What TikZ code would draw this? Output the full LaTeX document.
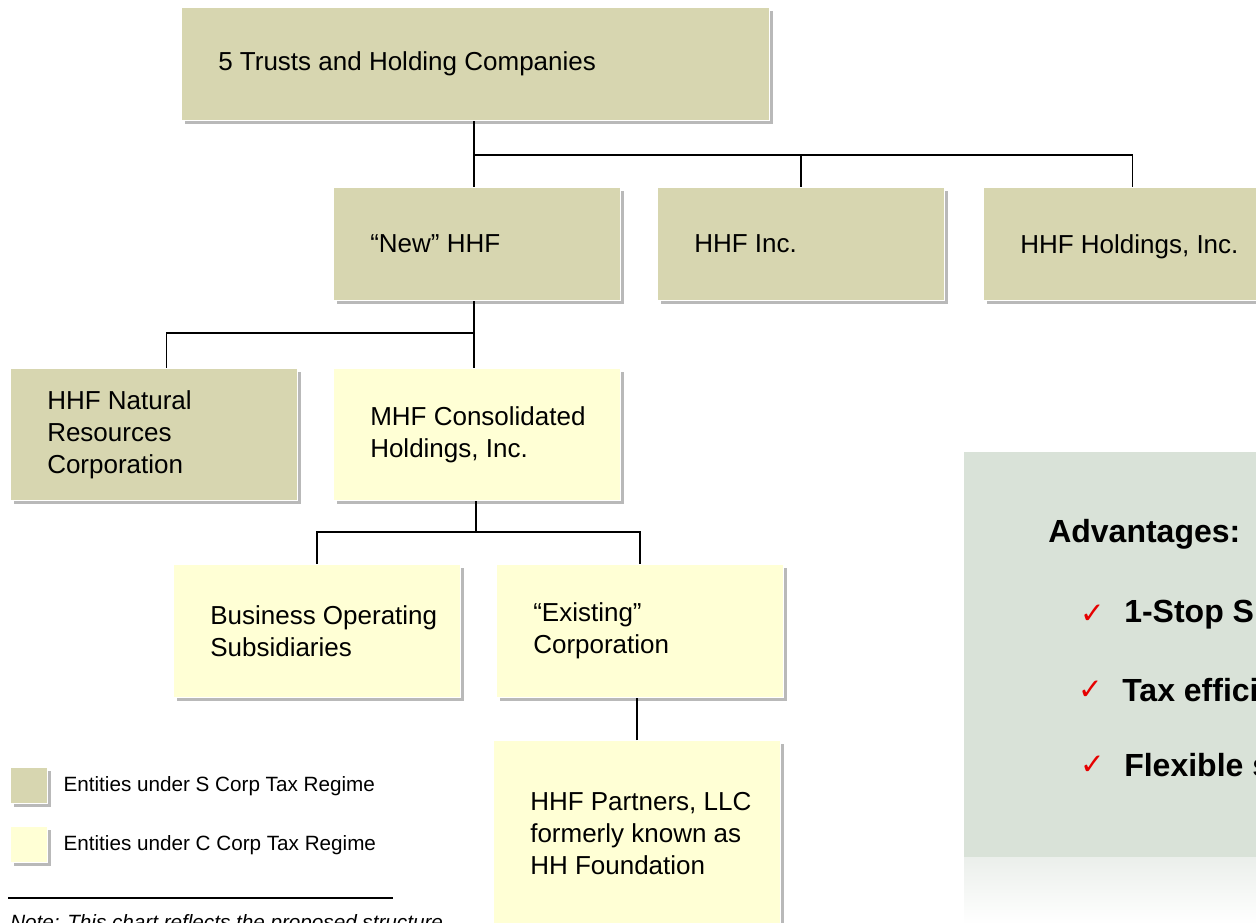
\documentclass[tikz,border=0pt]{standalone}
\usepackage{fontspec}
\setmainfont{Liberation Sans}
\newfontfamily\symfont{DejaVu Sans}
\usetikzlibrary{positioning, shadows}

\definecolor{scorpfill}{RGB}{215,214,176}
\definecolor{ccorpfill}{RGB}{255,255,213}
\definecolor{panelfill}{RGB}{217,226,216}
\definecolor{panellight}{RGB}{235,239,235}
\definecolor{checkred}{RGB}{230,0,0}

\begin{document}
\begin{tikzpicture}[x=0.75pt, y=-0.75pt,
    entity/.style={rectangle, draw=white, line width=1pt, inner sep=0pt, anchor=north west,
        drop shadow={shadow xshift=2.8pt, shadow yshift=-2.8pt, opacity=0.55}},
    scorp/.style={entity, fill=scorpfill},
    ccorp/.style={entity, fill=ccorpfill},
    wh/.style 2 args={minimum width=#1, minimum height=#2},
    boxtext/.style={inner sep=0pt, align=left, font=\fontsize{19.5}{24}\selectfont},
    legtext/.style={inner sep=0pt, anchor=west, font=\fontsize{15.5}{18}\selectfont},
    advtext/.style={inner sep=0pt, anchor=west, font=\bfseries\fontsize{24}{28}\selectfont},
    tick/.style={inner sep=0pt, text=checkred, font=\symfont\fontsize{22}{24}\selectfont},
    link/.style={draw=black, line width=0.9pt}]
        \useasboundingbox (0,0) rectangle (1256,922);
        \clip (0,0) rectangle (1256,922);

        % advantages panel
        \fill[panelfill] (964,452) rectangle (1256,857);
        \shade[top color=panellight, bottom color=white!96!panellight] (964,857) rectangle (1256,922);

        % bus points of the chart
        \coordinate (bus1) at (474,155);
        \coordinate (bus2) at (474,333);
        \coordinate (bus3) at (476,532);

        % entities
        \node[scorp, wh={441pt}{84.75pt}] (trusts) at (181,7) {};
        \node[scorp, wh={215pt}{84.75pt}] (newhhf) at (333,187) {};
        \node[scorp, wh={215pt}{84.75pt}] (hhfinc) at (657,187) {};
        \node[scorp, wh={223.5pt}{84.75pt}] (hhfhold) at (983,187) {};
        \node[scorp, wh={215pt}{99pt}] (natres) at (10,368) {};
        \node[ccorp, wh={215pt}{99pt}] (mhf) at (333,368) {};
        \node[ccorp, wh={215pt}{99.75pt}] (bizops) at (173,564) {};
        \node[ccorp, wh={215pt}{99.75pt}] (existing) at (496,564) {};
        \node[ccorp, wh={215pt}{139.5pt}] (partners) at (493,740) {};

        \node[boxtext, right=27.75pt of trusts.west] (trustsT) {5 Trusts and Holding Companies};
        \node[boxtext, right=27.75pt of newhhf.west] (newhhfT) {“New” HHF};
        \node[boxtext, right=27.75pt of hhfinc.west] (hhfincT) {HHF Inc.};
        \node[boxtext, right=27.75pt of hhfhold.west, yshift=-2pt] (hhfholdT) {HHF Holdings, Inc.};
        \node[boxtext, right=27.75pt of natres.west] (natresT) {HHF Natural\\Resources\\Corporation};
        \node[boxtext, right=27.75pt of mhf.west] (mhfT) {MHF Consolidated\\Holdings, Inc.};
        \node[boxtext, right=27.75pt of bizops.west] (bizopsT) {Business Operating\\Subsidiaries};
        \node[boxtext, right=27.75pt of existing.west] (existingT) {“Existing”\\Corporation};
        \node[boxtext, right=27.75pt of partners.west] (partnersT) {HHF Partners, LLC\\formerly known as\\HH Foundation};

        % connectors
        \draw[link] (trusts.south -| bus1) -- (newhhf.north -| bus1);
        \draw[link] (bus1) -| (hhfinc.north);
        \draw[link] (bus1) -| (hhfhold.north);
        \draw[link] (newhhf.south -| bus2) -- (mhf.north -| bus2);
        \draw[link] (bus2) -| ([xshift=9.4pt]natres.north);
        \draw[link] (mhf.south -| bus3) -- (bus3);
        \draw[link] (bizops.north) |- (bus3) -| (existing.north);
        \draw[link] (partners.north) -- (partners.north |- existing.south);

        % legend
        \node[scorp, wh={27.75pt}{27pt}] (legS) at (10,767) {};
        \node[ccorp, wh={27.75pt}{27pt}] (legC) at (10,826) {};
        \node[legtext, right=11.25pt of legS.east] (legST) {Entities under S Corp Tax Regime};
        \node[legtext, right=11.25pt of legC.east] (legCT) {Entities under C Corp Tax Regime};

        \coordinate (noteL) at (8,898);
        \coordinate (noteR) at (393,898);
        \draw[line width=0.9pt] (noteL) -- (noteR);
        \node[inner sep=0pt, anchor=north west, font=\itshape\fontsize{15.5}{18}\selectfont] (note) at (10,914)
        {Note: This chart reflects the proposed structure};

        % advantages
        \node[advtext] (adv) at (1048,534) {Advantages:};
        \node[advtext] (item1) at (1124,614) {1-Stop Shop};
        \node[advtext] (item2) at (1122,690) {Tax efficient};
        \node[advtext] (item3) at (1124,765) {Flexible structure};
        \node[tick, left=14pt of item1] (tick1) {✓};
        \node[tick, left=14pt of item2] (tick2) {✓};
        \node[tick, left=14pt of item3] (tick3) {✓};

    \end{tikzpicture}
\end{document}
